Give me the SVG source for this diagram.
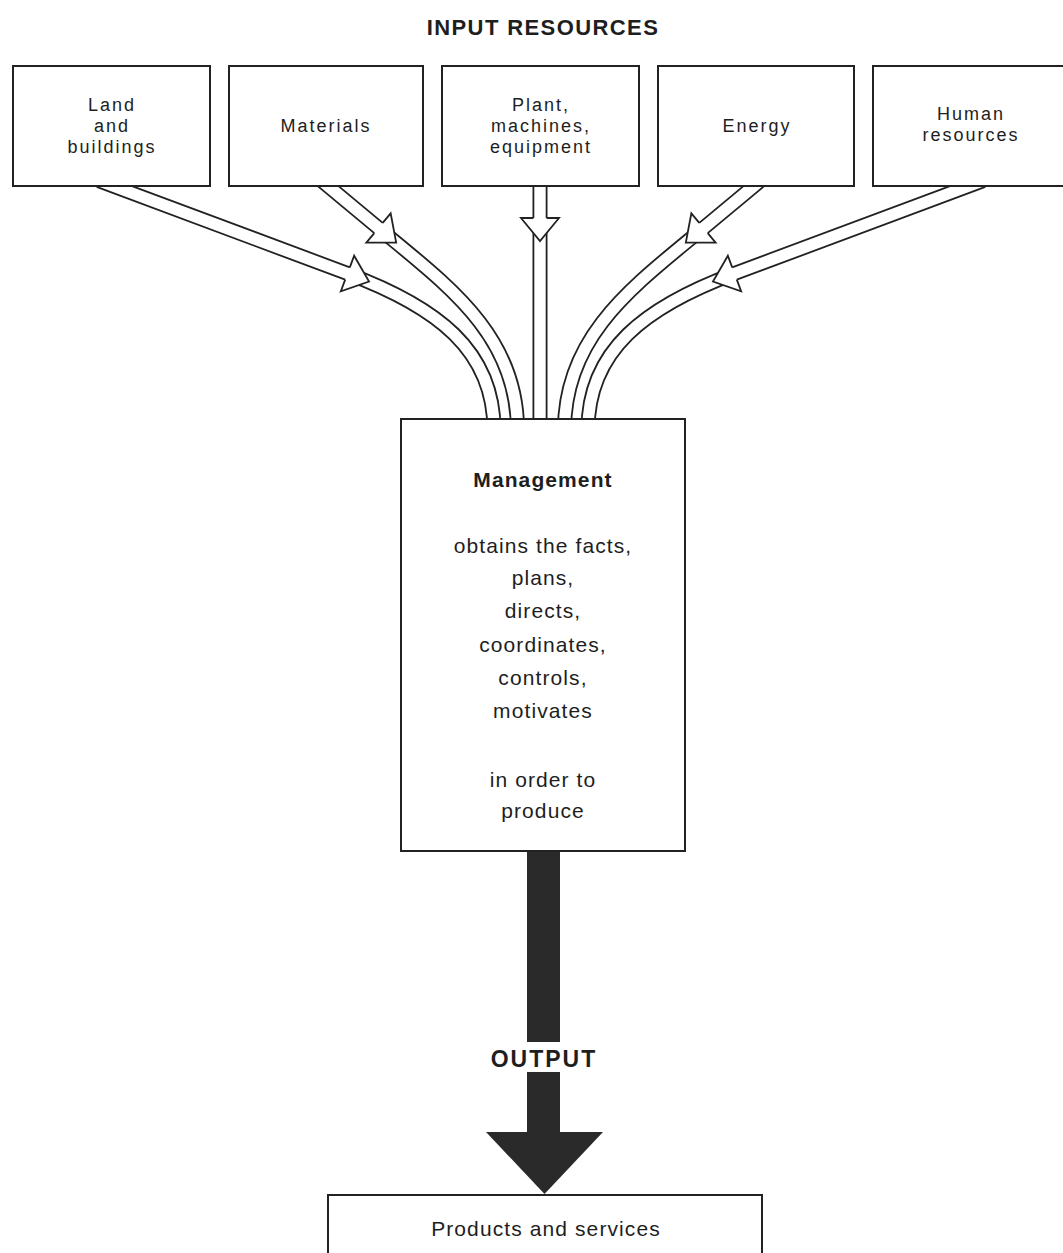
<svg xmlns="http://www.w3.org/2000/svg" xmlns:xlink="http://www.w3.org/1999/xlink" width="1063" height="1253" viewBox="0 0 1063 1253">
<style>
.box{fill:#fff;stroke:#222;stroke-width:2}
.t{font-family:"Liberation Sans",Arial,Helvetica,sans-serif;font-size:21px;letter-spacing:1.1px;text-anchor:middle;fill:#1e1e1e}
.s{font-size:18px;letter-spacing:2px}
.b{font-weight:bold}
.bo{fill:none;stroke:#222;stroke-width:15}
.bi{fill:none;stroke:#fff;stroke-width:11.4}
.dark{fill:#2a2a2a}
</style>
<defs>
<path id="pLand" d="M99,180.75 L113,186 L347.5,273.5 C436.5,306.75 494,350 494,430"/>
<path id="pMat" d="M316.5,176.4 L328,186 L378.5,228 C447.7,285.5 517.5,335 517.5,430"/>
<path id="pPlant" d="M540,175 L540,430"/>
<path id="pEnergy" d="M765.5,176.4 L754,186 L703.5,228 C634.3,285.5 564.5,335 564.5,430"/>
<path id="pHuman" d="M983,180.75 L969,186 L734.5,273.5 C645.5,306.75 588,350 588,430"/>
<g id="ah">
<polygon points="0,-19 23,0 0,19" fill="#fff"/>
<path d="M0,-6.6 L0,-19 L23,0 L0,19 L0,6.6" fill="none" stroke="#222" stroke-width="1.8" stroke-linejoin="miter"/>
</g>
</defs>
<rect width="1063" height="1253" fill="#fff"/>
<text id="title" class="t b" x="543" y="35" style="font-size:22px;letter-spacing:1.4px">INPUT RESOURCES</text>
<g id="connectors">
<use xlink:href="#pLand" class="bo"/><use xlink:href="#pLand" class="bi"/>
<use xlink:href="#pMat" class="bo"/><use xlink:href="#pMat" class="bi"/>
<use xlink:href="#pPlant" class="bo"/><use xlink:href="#pPlant" class="bi"/>
<use xlink:href="#pEnergy" class="bo"/><use xlink:href="#pEnergy" class="bi"/>
<use xlink:href="#pHuman" class="bo"/><use xlink:href="#pHuman" class="bi"/>
<use xlink:href="#ah" transform="translate(347.5,273.5) rotate(20.46)"/>
<use xlink:href="#ah" transform="translate(378.5,228) rotate(39.74)"/>
<use xlink:href="#ah" transform="translate(540,218) rotate(90)"/>
<use xlink:href="#ah" transform="translate(703.5,228) rotate(140.26)"/>
<use xlink:href="#ah" transform="translate(734.5,273.5) rotate(159.54)"/>
<g id="output-arrow">
<rect class="dark" x="527" y="851" width="33" height="191"/>
<rect class="dark" x="527" y="1072" width="33" height="61"/>
<polygon class="dark" points="486,1132 603,1132 544.5,1194"/>
<text class="t b" x="544" y="1067" style="font-size:23px;letter-spacing:2px">OUTPUT</text>
</g>
</g>
<g id="land">
<rect class="box" x="13" y="66" width="197" height="120"/>
<text class="t s" x="112" y="111">Land</text>
<text class="t s" x="112" y="132">and</text>
<text class="t s" x="112" y="153">buildings</text>
</g>
<g id="materials">
<rect class="box" x="229" y="66" width="194" height="120"/>
<text class="t s" x="326" y="132">Materials</text>
</g>
<g id="plant">
<rect class="box" x="442" y="66" width="197" height="120"/>
<text class="t s" x="541" y="111">Plant,</text>
<text class="t s" x="541" y="132">machines,</text>
<text class="t s" x="541" y="153">equipment</text>
</g>
<g id="energy">
<rect class="box" x="658" y="66" width="196" height="120"/>
<text class="t s" x="757" y="132">Energy</text>
</g>
<g id="human">
<rect class="box" x="873" y="66" width="198" height="120"/>
<text class="t s" x="971" y="120">Human</text>
<text class="t s" x="971" y="141">resources</text>
</g>
<g id="management">
<rect class="box" x="401" y="419" width="284" height="432"/>
<text class="t b" x="543" y="487">Management</text>
<text class="t" x="543" y="553">obtains the facts,</text>
<text class="t" x="543" y="585">plans,</text>
<text class="t" x="543" y="618">directs,</text>
<text class="t" x="543" y="652">coordinates,</text>
<text class="t" x="543" y="685">controls,</text>
<text class="t" x="543" y="718">motivates</text>
<text class="t" x="543" y="787">in order to</text>
<text class="t" x="543" y="818">produce</text>
</g>
<g id="products">
<rect class="box" x="328" y="1195" width="434" height="80"/>
<text class="t" x="546" y="1236">Products and services</text>
</g>
</svg>
